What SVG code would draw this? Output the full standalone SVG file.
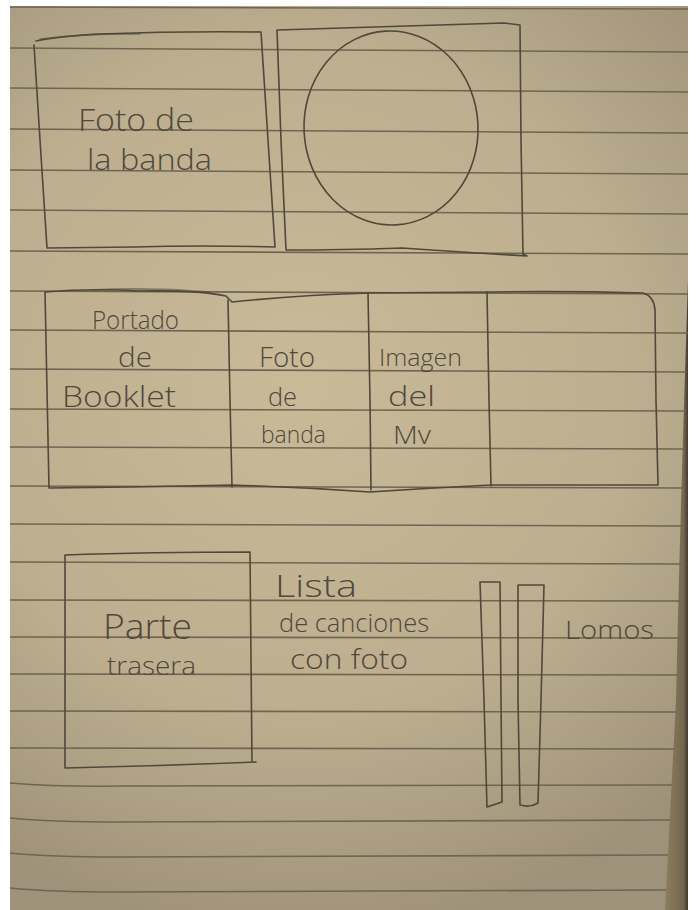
<svg xmlns="http://www.w3.org/2000/svg" width="698" height="910" viewBox="0 0 698 910">
<defs>
<radialGradient id="paperGrad" cx="300" cy="380" r="560" gradientUnits="userSpaceOnUse">
<stop offset="0" stop-color="#c9ba98"/>
<stop offset="0.6" stop-color="#bcae8e"/>
<stop offset="1" stop-color="#9f927a"/>
</radialGradient>
<linearGradient id="edgeGrad" x1="0" y1="0" x2="1" y2="0">
<stop offset="0" stop-color="#8a7a5c"/>
<stop offset="0.8" stop-color="#6c5e46"/>
<stop offset="1" stop-color="#2e281f"/>
</linearGradient>
<style>
.rule{stroke:#6f6552;stroke-width:1.6;fill:none}
.pen{stroke:#4f483b;stroke-width:1.6;fill:none;stroke-linecap:round;stroke-linejoin:round}
.hw{font-family:"Open Sans","DejaVu Sans",sans-serif;font-weight:300;fill:#4f483b}
</style>
</defs>
<rect x="0" y="0" width="698" height="910" fill="#ffffff"/>
<rect x="10" y="6" width="678" height="904" fill="url(#paperGrad)"/>
<path d="M688,280 Q680,520 676,700 L665,910 L688,910 Z" fill="url(#edgeGrad)" opacity="0.85"/>
<g id="ruled-lines">
<path class="rule" d="M10,7 L688,9"/>
<path class="rule" d="M10,48 L688,52"/>
<path class="rule" d="M10,88 L688,92"/>
<path class="rule" d="M10,129 L688,133"/>
<path class="rule" d="M10,170 L688,174"/>
<path class="rule" d="M10,210 L688,214"/>
<path class="rule" d="M10,251 L688,254"/>
<path class="rule" d="M10,291 L688,294"/>
<path class="rule" d="M10,330 L688,333"/>
<path class="rule" d="M10,369 L686,372"/>
<path class="rule" d="M10,409 L686,411"/>
<path class="rule" d="M10,447 L685,449"/>
<path class="rule" d="M10,486 L684,488"/>
<path class="rule" d="M10,524 L683,526"/>
<path class="rule" d="M10,562 L682,564"/>
<path class="rule" d="M10,600 L681,601"/>
<path class="rule" d="M10,637 L680,638"/>
<path class="rule" d="M10,674 L678,675"/>
<path class="rule" d="M10,711 L676,712"/>
<path class="rule" d="M10,748 L674,749"/>
<path class="rule" d="M10,783 Q60,787 120,786 L672,785"/>
<path class="rule" d="M10,818 Q50,822 120,822 L670,820"/>
<path class="rule" d="M10,853 Q50,857 120,857 L668,855"/>
<path class="rule" d="M10,888 Q50,892 120,892 L666,890"/>
</g>
<g id="foto-banda-top">
<path class="pen" d="M36,41 Q60,36 100,34 Q180,31 261,32 L268,140 L275,247 Q200,245 134,247 L47,248 L40,140 L34,45"/>
<path class="pen" d="M40,39 Q90,33 140,34" stroke-width="2.6" opacity="0.6"/>
<text class="hw" x="78" y="131" font-size="32" textLength="116" lengthAdjust="spacingAndGlyphs">Foto de</text>
<text class="hw" x="87" y="170" font-size="30" textLength="125" lengthAdjust="spacingAndGlyphs">la banda</text>
</g>
<g id="disco-top">
<path class="pen" d="M277,30 Q400,26 504,23 L520,25 L521,140 L523,254 L527,256 Q460,252 402,248 Q340,250 286,250 L281,140 Z"/>
<ellipse class="pen" cx="391" cy="128" rx="87" ry="97" transform="rotate(-3 391 128)"/>
</g>
<g id="booklet-strip">
<path class="pen" d="M45,292 Q90,288 140,291 Q200,290 226,296 L232,302 Q300,295 370,293 L491,292 Q570,291 643,293 Q654,296 655,310 L656,400 L658,485 L491,485 Q430,488 370,492 Q300,487 232,485 L130,487 L49,488 L47,390 Z"/>
<path class="pen" d="M90,290 Q150,287 210,292" stroke-width="2.6" opacity="0.55"/>
<path class="pen" d="M228,300 L230,400 L232,487"/>
<path class="pen" d="M368,293 L370,400 L371,490"/>
<path class="pen" d="M487,292 L489,400 L491,486"/>
</g>
<g id="portada-booklet">
<text class="hw" x="92" y="329" font-size="26" textLength="87" lengthAdjust="spacingAndGlyphs">Portado</text>
<text class="hw" x="118" y="367" font-size="28" textLength="34" lengthAdjust="spacingAndGlyphs">de</text>
<text class="hw" x="62" y="407" font-size="30" textLength="114" lengthAdjust="spacingAndGlyphs">Booklet</text>
</g>
<g id="foto-de-banda">
<text class="hw" x="259" y="367" font-size="28" textLength="56" lengthAdjust="spacingAndGlyphs">Foto</text>
<text class="hw" x="268" y="406" font-size="26" textLength="29" lengthAdjust="spacingAndGlyphs">de</text>
<text class="hw" x="261" y="443" font-size="24" textLength="65" lengthAdjust="spacingAndGlyphs">banda</text>
</g>
<g id="imagen-mv">
<text class="hw" x="379" y="366" font-size="24" textLength="83" lengthAdjust="spacingAndGlyphs">Imagen</text>
<text class="hw" x="388" y="406" font-size="28" textLength="47" lengthAdjust="spacingAndGlyphs">del</text>
<text class="hw" x="393" y="444" font-size="26" textLength="38" lengthAdjust="spacingAndGlyphs">Mv</text>
</g>
<g id="parte-trasera">
<path class="pen" d="M65,555 Q150,552 250,552 L251,660 L252,762 L256,762 Q160,766 65,768 L65,660 Z"/>
<text class="hw" x="103" y="639" font-size="34" textLength="89" lengthAdjust="spacingAndGlyphs">Parte</text>
<text class="hw" x="107" y="675" font-size="26" textLength="89" lengthAdjust="spacingAndGlyphs">trasera</text>
</g>
<g id="lista-canciones">
<text class="hw" x="275" y="597" font-size="32" textLength="82" lengthAdjust="spacingAndGlyphs">Lista</text>
<text class="hw" x="279" y="632" font-size="25" textLength="150" lengthAdjust="spacingAndGlyphs">de canciones</text>
<text class="hw" x="290" y="669" font-size="27" textLength="118" lengthAdjust="spacingAndGlyphs">con foto</text>
</g>
<g id="lomos">
<path class="pen" d="M480,582 L500,582 L501,700 L502,802 L487,807 L484,700 Z"/>
<path class="pen" d="M518,585 L544,585 L541,700 L538,803 Q530,808 520,805 L518,700 Z"/>
<text class="hw" x="565" y="639" font-size="26" textLength="89" lengthAdjust="spacingAndGlyphs">Lomos</text>
</g>
</svg>
